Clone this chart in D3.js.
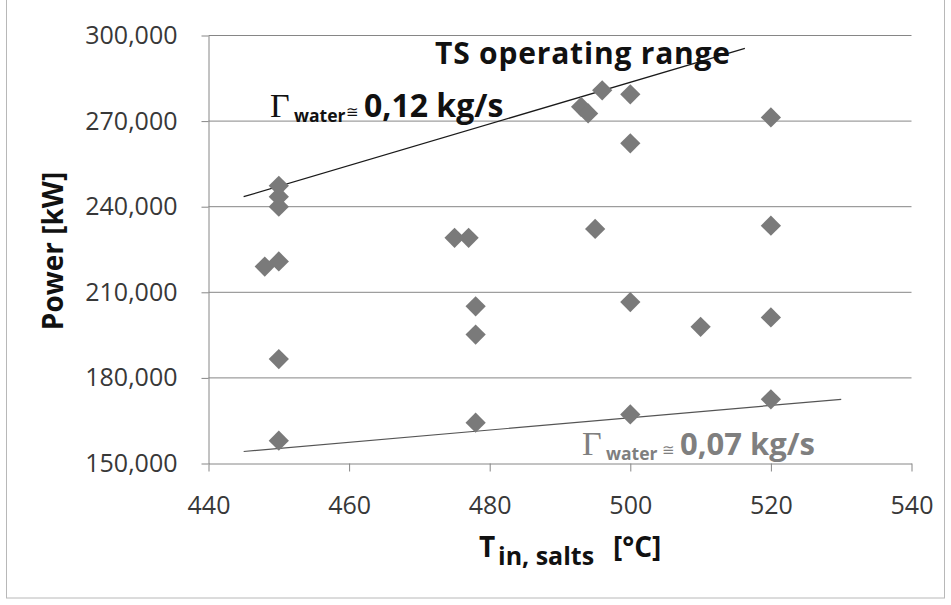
<!DOCTYPE html>
<html>
<head>
<meta charset="utf-8">
<script src="https://cdn.jsdelivr.net/npm/d3@7"></script>
<style>
  html, body { margin: 0; padding: 0; background: #ffffff; }
  svg { display: block; }
  .tick text { font-family: "Open Sans", sans-serif; }
</style>
</head>
<body>
<svg id="chart" width="951" height="605"></svg>
<script>
// ---------- data ----------
const tempSalts = [448, 450, 450, 450, 450, 450, 450, 475, 477, 478, 478, 478, 493, 494, 495, 496, 500, 500, 500, 500, 510, 520, 520, 520, 520];
const powerKW   = [219000, 220800, 247300, 243500, 240000, 186600, 158000, 229100, 229100, 205100, 195200, 164300, 275000, 272700, 232200, 280800, 279400, 262200, 206600, 167200, 197900, 271300, 233350, 201200, 172500];

const upperLineT = [445, 516.3];
const upperLineP = [243500, 295450];
const lowerLineT = [445, 530];
const lowerLineP = [154200, 172500];

const xTicks = [440, 460, 480, 500, 520, 540];
const yTicks = [150000, 180000, 210000, 240000, 270000, 300000];

const xTitleMain = "T";
const xTitleSub = "in, salts";
const xTitleUnit = "[°C]";
const yTitle = "Power [kW]";
const chartTitle = "TS operating range";
const upperLabel = { gamma: "Γ", sub: "water", approx: "≅", value: "0,12 kg/s" };
const lowerLabel = { gamma: "Γ", sub: "water", approx: "≅", value: "0,07 kg/s" };

// ---------- layout ----------
const svg = d3.select("#chart");
const gridColor = "#868686";
const markerColor = "#7a7a7a";
const sansFont = "'Open Sans', sans-serif";
const serifFont = "'Liberation Serif', 'DejaVu Serif', serif";

const x = d3.scaleLinear().domain([440, 540]).range([208.5, 911.5]);
const y = d3.scaleLinear().domain([150000, 300000]).range([463.5, 35.5]);

// outer border
svg.append("rect")
  .attr("x", 6.5).attr("y", -2)
  .attr("width", 938).attr("height", 600)
  .attr("fill", "#ffffff")
  .attr("stroke", "#b8b8b8").attr("stroke-width", 1);

// gridlines
svg.append("g")
  .selectAll("line")
  .data(yTicks.filter(v => v > 150000))
  .join("line")
  .attr("x1", x(440)).attr("x2", x(540))
  .attr("y1", d => y(d)).attr("y2", d => y(d))
  .attr("stroke", gridColor).attr("stroke-width", 1);

// axes
const xAxis = svg.append("g")
  .attr("transform", `translate(0,${y(150000)})`)
  .call(d3.axisBottom(x).tickValues(xTicks).tickFormat(d3.format("d")).tickSize(8).tickPadding(25).tickSizeOuter(0));
const yAxis = svg.append("g")
  .attr("transform", `translate(${x(440)},0)`)
  .call(d3.axisLeft(y).tickValues(yTicks).tickFormat(d3.format(",")).tickSize(7).tickPadding(24).tickSizeOuter(0));

[xAxis, yAxis].forEach(g => {
  g.select(".domain").attr("stroke", gridColor).attr("stroke-width", 1);
  g.selectAll(".tick line").attr("stroke", gridColor).attr("stroke-width", 1);
  g.selectAll(".tick text")
    .attr("fill", "#383838")
    .style("font-family", sansFont)
    .style("font-size", "25px");
});

// trend lines
const lineGen = d3.line().x(d => x(d[0])).y(d => y(d[1]));
svg.append("path")
  .datum(upperLineT.map((t, i) => [t, upperLineP[i]]))
  .attr("d", lineGen)
  .attr("fill", "none").attr("stroke", "#1a1a1a").attr("stroke-width", 1.3);
svg.append("path")
  .datum(lowerLineT.map((t, i) => [t, lowerLineP[i]]))
  .attr("d", lineGen)
  .attr("fill", "none").attr("stroke", "#555555").attr("stroke-width", 1.2);

// markers (diamonds)
const diamond = d3.symbol().type(d3.symbolSquare).size(205);
svg.append("g")
  .selectAll("path")
  .data(tempSalts.map((t, i) => [t, powerKW[i]]))
  .join("path")
  .attr("d", diamond)
  .attr("transform", d => `translate(${x(d[0])},${y(d[1])}) rotate(45)`)
  .attr("fill", markerColor);

// chart title
svg.append("text")
  .attr("x", 435).attr("y", 64)
  .attr("fill", "#111111")
  .style("font-family", sansFont)
  .style("font-weight", "bold")
  .style("font-size", "30px")
  .style("letter-spacing", "0.8px")
  .text(chartTitle);

// annotation helper
function annotate(lbl, base, color, xs, valueSize) {
  const t = svg.append("text").attr("fill", color);
  t.append("tspan").attr("x", xs[0]).attr("y", base)
    .style("font-family", serifFont).style("font-size", "34px").text(lbl.gamma);
  t.append("tspan").attr("x", xs[1]).attr("y", base + 5)
    .style("font-family", sansFont).style("font-weight", "bold").style("font-size", "17.5px").text(lbl.sub);
  t.append("tspan").attr("x", xs[2]).attr("y", base)
    .style("font-family", "'DejaVu Sans', sans-serif").style("font-size", "15px").text(lbl.approx);
  t.append("tspan").attr("x", xs[3]).attr("y", base)
    .style("font-family", sansFont).style("font-weight", "bold").style("font-size", valueSize).text(lbl.value);
}
annotate(upperLabel, 116.5, "#111111", [270, 294, 346, 364], "32px");
annotate(lowerLabel, 455, "#7f7f7f", [582, 606, 662, 680], "31px");

// axis titles
const xt = svg.append("text").attr("fill", "#111111")
  .style("font-family", sansFont).style("font-weight", "bold");
xt.append("tspan").attr("x", 479).attr("y", 557).style("font-size", "28px").text(xTitleMain);
xt.append("tspan").attr("x", 498).attr("y", 565).style("font-size", "25px").text(xTitleSub);
xt.append("tspan").attr("x", 613).attr("y", 557).style("font-size", "28px").text(xTitleUnit);

svg.append("text")
  .attr("transform", "translate(63,251) rotate(-90)")
  .attr("text-anchor", "middle")
  .attr("fill", "#111111")
  .style("font-family", sansFont)
  .style("font-weight", "bold")
  .style("font-size", "28px")
  .text(yTitle);
</script>
</body>
</html>
